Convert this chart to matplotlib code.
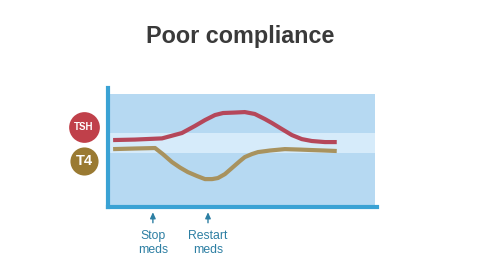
import matplotlib
matplotlib.use("Agg")
import matplotlib.pyplot as plt

# Data (time 0-100, level 0-100)
tsh_t = [1.9, 10.0, 20.1, 27.5, 32.3, 36.1, 39.8, 42.8, 47.2, 50.9, 54.6, 58.4, 61.0, 64.7, 68.4, 72.1, 75.8, 80.7, 85.1]
tsh_v = [56.3, 56.7, 57.7, 62.2, 68.1, 73.1, 77.3, 79.0, 79.4, 79.8, 78.2, 73.9, 70.6, 65.5, 60.5, 57.1, 55.5, 54.6, 54.6]
t4_t = [1.9, 10.0, 17.5, 20.4, 23.8, 26.8, 29.7, 33.1, 36.1, 38.7, 40.9, 43.5, 46.1, 49.1, 50.9, 53.5, 55.8, 60.2, 65.8, 71.4, 75.8, 80.7, 85.1]
t4_v = [48.7, 49.2, 49.6, 44.5, 37.8, 33.2, 29.4, 26.1, 23.5, 23.5, 24.4, 27.7, 32.8, 38.7, 42.0, 44.5, 46.2, 47.5, 48.7, 48.3, 47.9, 47.5, 47.1]
normal_range = (45.4, 62.2)
events_t = [16.7, 37.2]
event_labels = ["Stop\nmeds", "Restart\nmeds"]
badges = ["TSH", "T4"]
badge_levels = [67.0, 38.7]

title_color = "#3a3a3a"
spine_color = "#3aa2d4"
band_color = "#b6d9f2"
range_color = "#d6ebfa"
tsh_color = "#b5475a"
t4_color = "#a8925e"
teal = "#2d7fa3"

fig = plt.figure(figsize=(4.8, 2.7), dpi=100)
fig.patch.set_facecolor("white")
ax = fig.add_axes([0.225, 0.233, 0.56, 0.441])
ax.set_xlim(0, 100)
ax.set_ylim(0, 100)
ax.set_facecolor("white")

ax.axhspan(0, 95, xmin=0, xmax=0.993, color=band_color, zorder=0, lw=0)
ax.axhspan(normal_range[0], normal_range[1], xmin=0, xmax=0.993, color=range_color, zorder=0.5, lw=0)

ax.plot(tsh_t, tsh_v, color=tsh_color, lw=3, solid_capstyle="butt", solid_joinstyle="round", zorder=2)
ax.plot(t4_t, t4_v, color=t4_color, lw=3, solid_capstyle="butt", solid_joinstyle="round", zorder=2)

for s in ["top", "right"]:
    ax.spines[s].set_visible(False)
for s in ["left", "bottom"]:
    ax.spines[s].set_color(spine_color)
    ax.spines[s].set_linewidth(3)
ax.set_xticks([])
ax.set_yticks([])

for t, lab in zip(events_t, event_labels):
    ax.annotate("", xy=(t, -2.0), xytext=(t, -15.5), annotation_clip=False,
                arrowprops=dict(arrowstyle="-|>,head_length=0.35,head_width=0.16", color=teal, lw=1.0))
    ax.text(t, -19.5, lab, ha="center", va="top", color=teal, fontsize=8.8,
            family="Liberation Sans", linespacing=1.2, clip_on=False)

badge_colors = ["#c0404a", "#9a7a32"]
badge_sizes = [490, 410]
badge_fonts = [7, 10.5]
for lab, y, c, sz, fs in zip(badges, badge_levels, badge_colors, badge_sizes, badge_fonts):
    ax.scatter([-8.9], [y], s=sz, color=c, clip_on=False, zorder=3, lw=0)
    ax.text(-8.9, y, lab, ha="center", va="center", color="white", fontsize=fs,
            fontweight="bold", family="Liberation Sans", clip_on=False, zorder=4)

fig.text(0.5, 1 - 43 / 270, "Poor compliance", ha="center", va="baseline", fontsize=16.8,
         fontweight="bold", color=title_color, family="Liberation Sans")

fig.savefig("out.png", dpi=100)
